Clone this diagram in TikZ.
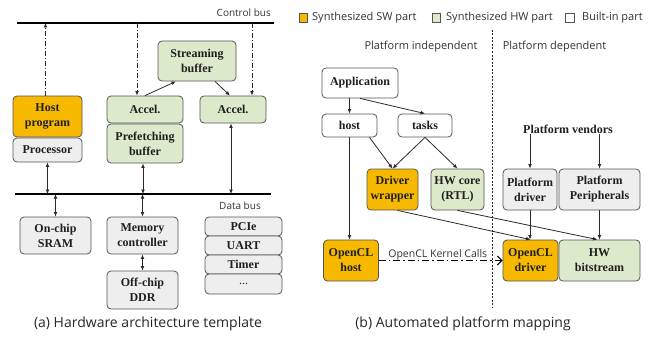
\documentclass[tikz,border=0pt]{standalone}
\usepackage{fontspec}
\setmainfont{Liberation Serif}
\newfontfamily\lblfont{Open Sans}
\usetikzlibrary{arrows.meta,calc}
\definecolor{swc}{HTML}{F7B900}
\definecolor{hwc}{HTML}{DDE9CB}
\definecolor{bic}{HTML}{EEEEEE}
\definecolor{edgec}{HTML}{555555}
\definecolor{linec}{HTML}{2A2A2A}
\tikzset{
  box/.style={draw=edgec, line width=0.8pt, rounded corners=4pt, align=center, inner sep=0pt,
    font=\fontsize{12}{15}\selectfont\bfseries, text=black!88},
  sw/.style={box, fill=swc},
  hw/.style={box, fill=hwc},
  bi/.style={box, fill=bic},
  wh/.style={box, fill=white},
  sz/.style 2 args={minimum width=#1pt, minimum height=#2pt},
  bus/.style={line width=2.6pt, black},
  conn/.style={linec, line width=0.8pt, -{Latex[length=4.5pt,width=3.8pt]}},
  dconn/.style={linec, line width=0.8pt, {Latex[length=4.5pt,width=3.8pt]}-{Latex[length=4.5pt,width=3.8pt]}},
  ctrl/.style={linec, line width=0.9pt, dash pattern=on 5pt off 2pt on 1pt off 2pt, -{Latex[length=4.5pt,width=3.8pt]}},
  lbl/.style={font=\lblfont\fontsize{10}{12}\selectfont, text=black!80, inner sep=1pt},
  leg/.style={font=\lblfont\fontsize{11}{13}\selectfont, text=black!80, inner sep=1pt},
  captext/.style={font=\lblfont\fontsize{14}{16}\selectfont, text=black!85},
  legsq/.style={draw=edgec, line width=0.7pt, minimum width=8.5pt, minimum height=8.5pt, inner sep=0pt},
}
\begin{document}
\begin{tikzpicture}[x=1pt,y=-1pt]
\useasboundingbox (0,0) rectangle (660,337);

% ---------- (a) Hardware architecture template ----------
\coordinate (cbL) at (17,23);
\coordinate (cbR) at (274,23);
\coordinate (dbL) at (15,194);
\coordinate (dbR) at (271,194);
\draw[bus] (cbL) -- (cbR);
\draw[bus] (dbL) -- (dbR);
\node[lbl, anchor=east] (cblbl) at (272,13) {Control bus};
\node[lbl] (dblbl) at (240,206) {Data bus};

\node[sw, sz={69}{41}] (hostp) at (47.5,116.5) {Host\\program};
\node[bi, sz={69}{24}] (proc) at (47.5,150) {Processor};
\node[hw, sz={76}{27}] (accA) at (145,109.5) {Accel.};
\node[hw, sz={76}{39}] (pref) at (145,143.5) {Prefetching\\buffer};
\node[hw, sz={78}{40}] (stream) at (197,61) {Streaming\\buffer};
\node[hw, sz={66}{27}] (accB) at (233,109.5) {Accel.};
\node[bi, sz={71}{37}] (sram) at (55.5,235.5) {On-chip\\SRAM};
\node[bi, sz={71}{37}] (memc) at (142.5,235.5) {Memory\\controller};
\node[bi, sz={71}{38}] (ddr) at (142.5,290) {Off-chip\\DDR};
\node[bi, sz={77}{19}] (pcie) at (243.5,226.5) {PCIe};
\node[bi, sz={77}{19}] (uart) at (243.5,245.5) {UART};
\node[bi, sz={77}{19}] (timer) at (243.5,264.5) {Timer};
\node[bi, sz={77}{20}] (dots) at (243.5,284) {\textmd{...}};

% control bus links
\draw[ctrl] ([xshift=-2pt]hostp.north) -- ([xshift=-2pt]hostp.north |- cbL) ;
\draw[ctrl] ([xshift=-8pt]accA.north |- cbL) -- ([xshift=-8pt]accA.north);
\draw[ctrl] ([xshift=19pt]accB.north |- cbL) -- ([xshift=19pt]accB.north);
% streaming buffer
\draw[conn] (accA.north) -- ([xshift=-21pt]stream.south);
\draw[conn] ([xshift=18pt]stream.south) -- ([xshift=-3pt]accB.north);
% data bus links
\draw[dconn] (proc.south) -- (proc.south |- dbL);
\draw[dconn] ([xshift=-2pt]pref.south) -- ([xshift=-2pt]pref.south |- dbL);
\draw[dconn] ([xshift=-2pt]accB.south) -- ([xshift=-2pt]accB.south |- dbL);
\draw[dconn] (sram.north |- dbL) -- (sram.north);
\draw[dconn] (memc.north |- dbL) -- (memc.north);
\draw[dconn] (memc.south) -- (ddr.north);

\node[captext] (capa) at (148,324) {(a) Hardware architecture template};

% ---------- (b) Automated platform mapping ----------
% legend
\node[legsq, fill=swc] (lsw) at (303.5,18) {};
\node[leg, anchor=west] (lswt) at (311,17.5) {Synthesized SW part};
\node[legsq, fill=hwc] (lhw) at (436.5,18) {};
\node[leg, anchor=west] (lhwt) at (445,17.5) {Synthesized HW part};
\node[legsq, fill=white] (lbi) at (570,18) {};
\node[leg, anchor=west] (lbit) at (581,17.5) {Built-in part};

\coordinate (divT) at (492,30);
\coordinate (divB) at (492,308);
\draw[linec, line width=0.8pt, dash pattern=on 2pt off 1.5pt] (divT) -- (divB);
\node[leg] (pind) at (421,47) {Platform independent};
\node[leg] (pdep) at (554.5,47) {Platform dependent};

\node[wh, sz={76}{30}] (app) at (360,83) {Application};
\node[wh, sz={55}{23}] (host) at (349.5,125.5) {host};
\node[wh, sz={54}{23}] (tasks) at (425,125.5) {tasks};
\node[sw, sz={51}{41}] (drvw) at (392.5,189.5) {Driver\\wrapper};
\node[hw, sz={53}{41}] (hwcore) at (457.5,189.5) {HW core\\(RTL)};
\node[bi, sz={54}{41}] (pdrv) at (530,189.5) {Platform\\driver};
\node[bi, sz={81}{41}] (pper) at (599.5,189.5) {Platform\\Peripherals};
\node[sw, sz={55}{41}] (oclh) at (351,260.5) {OpenCL\\host};
\node[sw, sz={55}{41}] (ocld) at (530.5,260.5) {OpenCL\\driver};
\node[hw, sz={81}{41}] (hwbit) at (599.5,260.5) {HW\\bitstream};
\node[font=\fontsize{12}{14}\selectfont\bfseries, text=black!88, inner sep=1pt] (pv) at (568,129) {Platform vendors};

\draw[conn] (host.north |- app.south) -- (host.north);
\draw[conn] (app.south) -- (tasks.north);
\draw[conn] ([xshift=20pt]host.south) -- (drvw.north);
\draw[conn] (tasks.south) -- (drvw.north);
\draw[conn] (tasks.south) -- (hwcore.north);
\draw[conn] (host.south) -- (host.south |- oclh.north);
\draw[conn] (pdrv.north |- pv.south) -- (pdrv.north);
\draw[conn] (pper.north |- pv.south) -- (pper.north);
\draw[conn] (pdrv.south) -- (pdrv.south |- ocld.north);
\draw[conn] (pper.south) -- (hwbit.north);
\draw[conn] ([xshift=5pt]drvw.south) -- (ocld.north);
\draw[conn] (hwcore.south) -- ([xshift=-2pt]hwbit.north);
\draw[black, line width=1.1pt, dash pattern=on 7pt off 3pt on 1.5pt off 3pt, -{Straight Barb[length=4.5pt,width=9pt]}]
  (oclh.east) -- node[lbl, above, inner sep=0.3pt, xshift=-3pt, font=\lblfont\fontsize{10.5}{12}\selectfont] (kc) {OpenCL Kernel Calls} (ocld.west);

\node[captext] (capb) at (463,324) {(b) Automated platform mapping};
\end{tikzpicture}
\end{document}
